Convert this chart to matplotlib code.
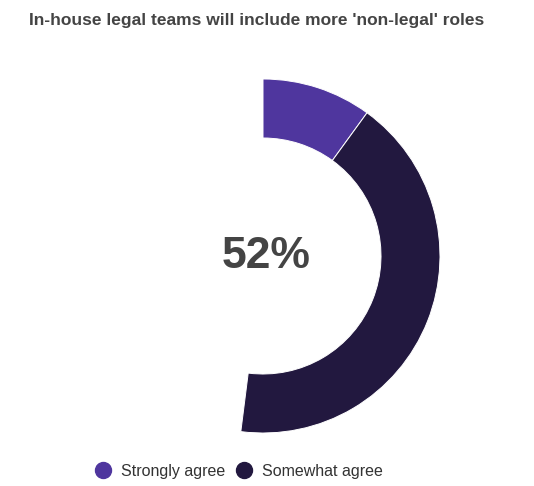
import matplotlib
matplotlib.use("Agg")
import matplotlib.pyplot as plt
from matplotlib.lines import Line2D

plt.rcParams['font.family'] = ['Liberation Sans', 'DejaVu Sans']

title = "In-house legal teams will include more 'non-legal' roles"
categories = ["Strongly agree", "Somewhat agree"]
shares = [0.10, 0.42]
colors = ["#4f369e", "#22183f"]
total_label = "52%"

W, H = 534, 486
fig = plt.figure(figsize=(W / 100, H / 100), dpi=100)
ax = fig.add_axes([0, 0, 1, 1])

cx, cy = 263, H - 256
R, ring = 177, 59
ax.pie(shares, colors=colors, startangle=90, counterclock=False,
       normalize=False, center=(cx, cy), radius=R, frame=True,
       wedgeprops=dict(width=ring, edgecolor='white', linewidth=0.7))
ax.set_xlim(0, W)
ax.set_ylim(0, H)
ax.set_aspect('equal')
ax.axis('off')

ax.text(cx + 3, cy - 1, total_label, ha='center', va='center',
        fontsize=32, fontweight='bold', color='#444444')

fig.text(257 / W, 1 - 20 / H, title, ha='center', va='center',
         fontsize=12.5, fontweight='bold', color='#444444')

fs = 11.5
handles = [Line2D([0], [0], marker='o', linestyle='none', markersize=11.5,
                  markerfacecolor=c, markeredgecolor=c) for c in colors]
leg = fig.legend(handles, categories, loc='center', ncol=2,
                 bbox_to_anchor=(239 / W, 1 - 471 / H), frameon=False,
                 handletextpad=0.65, columnspacing=0.65, handlelength=1.0,
                 borderpad=0, prop={'size': fs})
for t in leg.get_texts():
    t.set_color('#333333')

fig.savefig("out.png", dpi=100, facecolor='white')
